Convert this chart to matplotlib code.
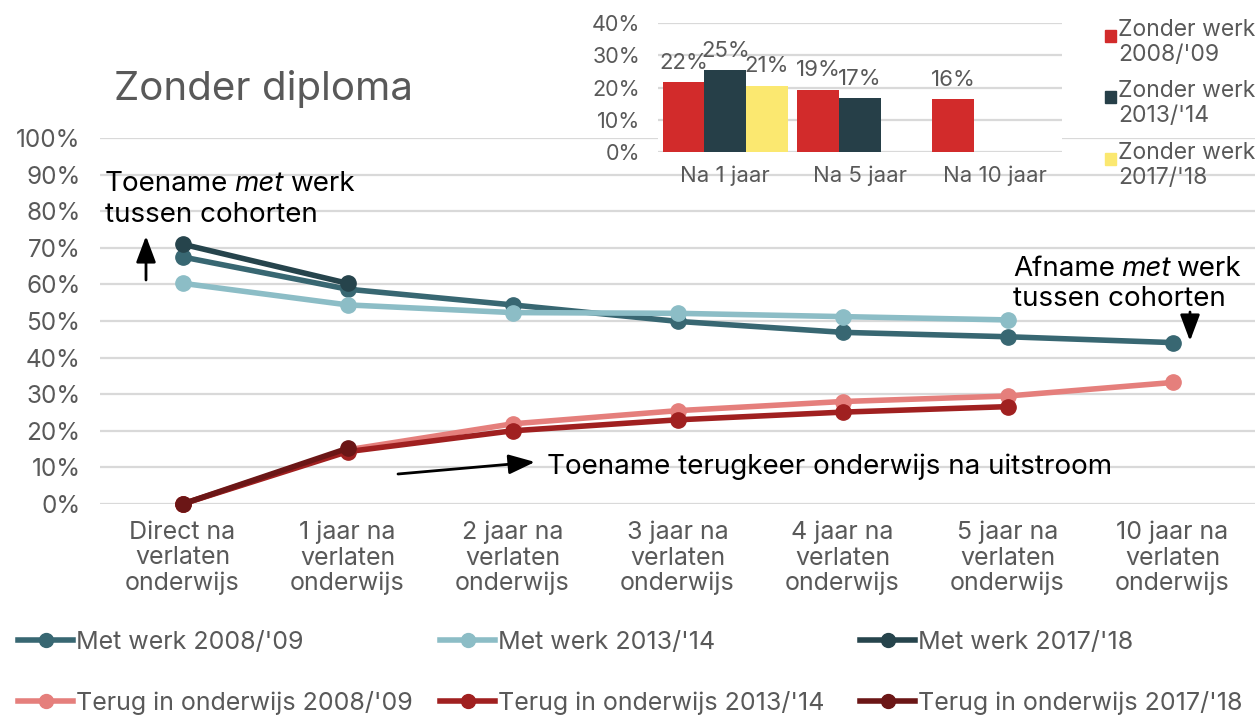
import numpy as np
import matplotlib
matplotlib.use('Agg')
import matplotlib.pyplot as plt
from matplotlib.lines import Line2D
from matplotlib.patches import Rectangle

plt.rcParams['font.family'] = ['Inter', 'DejaVu Sans']

W, H = 1257, 716
GREY = '#595959'

# ---- data, main chart ----
categories = ['Direct na\nverlaten\nonderwijs', '1 jaar na\nverlaten\nonderwijs',
              '2 jaar na\nverlaten\nonderwijs', '3 jaar na\nverlaten\nonderwijs',
              '4 jaar na\nverlaten\nonderwijs', '5 jaar na\nverlaten\nonderwijs',
              '10 jaar na\nverlaten\nonderwijs']
nan = np.nan
met_werk_0809 = [67.5, 58.7, 54.4, 49.9, 46.9, 45.7, 44.1]
met_werk_1314 = [60.3, 54.4, 52.3, 52.1, 51.2, 50.3, nan]
met_werk_1718 = [71.0, 60.3, nan, nan, nan, nan, nan]
terug_0809 = [0.0, 14.8, 21.9, 25.5, 28.0, 29.5, 33.2]
terug_1314 = [0.0, 14.3, 20.0, 23.0, 25.1, 26.6, nan]
terug_1718 = [0.0, 15.2, nan, nan, nan, nan, nan]

series = [
    ("Met werk 2008/'09", met_werk_0809, '#386772'),
    ("Met werk 2013/'14", met_werk_1314, '#8cbdc6'),
    ("Met werk 2017/'18", met_werk_1718, '#26444c'),
    ("Terug in onderwijs 2008/'09", terug_0809, '#e57f7c'),
    ("Terug in onderwijs 2013/'14", terug_1314, '#a02020'),
    ("Terug in onderwijs 2017/'18", terug_1718, '#6b1616'),
]

# ---- data, inset (zonder werk) ----
inset_cats = ['Na 1 jaar', 'Na 5 jaar', 'Na 10 jaar']
zonder_0809 = [21.6, 19.3, 16.3]
zonder_1314 = [25.3, 16.6, nan]
zonder_1718 = [20.6, nan, nan]
inset_series = [
    ("Zonder werk\n2008/'09", zonder_0809, '#d22b2b'),
    ("Zonder werk\n2013/'14", zonder_1314, '#263f48'),
    ("Zonder werk\n2017/'18", zonder_1718, '#fbe870'),
]


def fx(x):
    return x / W


def fy(y):
    return 1 - y / H


fig = plt.figure(figsize=(W / 100, H / 100), dpi=100)

# main axes
ax = fig.add_axes([fx(100), fy(504), 1155 / W, 366 / H])
x = np.arange(len(categories))
for name, vals, col in series:
    ax.plot(x, vals, color=col, lw=4, marker='o', ms=11, clip_on=False,
            solid_capstyle='round')
ax.set_xlim(-0.5, 6.5)
ax.set_ylim(0, 100)
ax.set_yticks(np.arange(0, 101, 10))
ax.set_yticklabels([f'{v}%' for v in range(0, 101, 10)])
ax.set_xticks(x)
ax.set_xticklabels(categories, linespacing=1.13)
ax.tick_params(axis='y', length=0, pad=14, labelsize=17.5, labelcolor=GREY)
ax.tick_params(axis='x', length=0, pad=12, labelsize=18, labelcolor=GREY)
ax.grid(axis='y', color='#d9d9d9', lw=1.6)
ax.set_axisbelow(True)
for s in ax.spines.values():
    s.set_visible(False)

# title
fig.text(fx(114), fy(89), 'Zonder diploma', fontsize=29, color=GREY, va='center')


# annotations with italic "met"
def mixed(x0, y0, parts, size=20):
    prev = None
    for txt, style in parts:
        if prev is None:
            prev = ax.annotate(txt, xy=(x0, H - y0), xycoords='figure pixels',
                               fontsize=size, style=style, va='baseline',
                               annotation_clip=False)
        else:
            prev = ax.annotate(txt, xy=(1, 0), xycoords=prev, xytext=(6, 0),
                               textcoords='offset pixels', fontsize=size,
                               style=style, va='bottom', annotation_clip=False)


mixed(105, 191, [('Toename', 'normal'), ('met', 'italic'), ('werk', 'normal')])
mixed(105, 222, [('tussen cohorten', 'normal')])
mixed(1013, 276, [('Afname', 'normal'), ('met', 'italic'), ('werk', 'normal')])
mixed(1013, 306, [('tussen cohorten', 'normal')])
mixed(547, 474, [('Toename terugkeer onderwijs na uitstroom', 'normal')])

arrow = dict(arrowstyle='-|>,head_length=0.8,head_width=0.3', color='black',
             lw=2, mutation_scale=20, shrinkA=0, shrinkB=0)
for tail, tip in [((146, 280), (146, 236)), ((1190, 312), (1190, 341)),
                  ((398, 474), (535, 462))]:
    ax.annotate('', xy=(tip[0], H - tip[1]), xytext=(tail[0], H - tail[1]),
                xycoords='figure pixels', textcoords='figure pixels',
                arrowprops=arrow, annotation_clip=False)

# bottom legend, one entry per slot
slots = [(18, 642), (18, 703), (440, 642), (440, 703), (860, 642), (860, 703)]
order = [0, 3, 1, 4, 2, 5]
for (lx, ly), i in zip(slots, order):
    name, vals, col = series[i]
    h = Line2D([], [], color=col, lw=4, marker='o', ms=10)
    fig.legend([h], [name], loc='center left', bbox_to_anchor=(fx(lx), fy(ly)),
               frameon=False, borderpad=0, borderaxespad=0, handlelength=2.2,
               handletextpad=0.12, fontsize=18, labelcolor=GREY)

# inset bar chart
axin = fig.add_axes([fx(658), fy(152), 404 / W, 129 / H])
bw = 0.31
xi = np.arange(len(inset_cats))
for k, (name, vals, col) in enumerate(inset_series):
    vals = np.array(vals)
    ok = ~np.isnan(vals)
    bars = axin.bar(xi[ok] + (k - 1) * bw, vals[ok], width=bw, color=col)
    axin.bar_label(bars, labels=[f'{v:.0f}%' for v in vals[ok]], padding=7,
                   fontsize=16, color=GREY)
axin.set_xlim(-0.5, 2.5)
axin.set_ylim(0, 40)
axin.set_yticks(np.arange(0, 41, 10))
axin.set_yticklabels([f'{v}%' for v in range(0, 41, 10)])
axin.set_xticks(xi)
axin.set_xticklabels(inset_cats)
axin.tick_params(axis='y', length=0, pad=13, labelsize=15.5, labelcolor=GREY)
axin.tick_params(axis='x', length=0, pad=10, labelsize=16, labelcolor=GREY)
axin.grid(axis='y', color='#d9d9d9', lw=1.6)
axin.set_axisbelow(True)
for s in axin.spines.values():
    s.set_visible(False)

# inset legend
for (name, vals, col), ty in zip(inset_series, [19, 80, 142]):
    fig.add_artist(Rectangle((fx(1105), fy(ty + 23)), 11 / W, 12 / H,
                             transform=fig.transFigure, color=col))
    fig.text(fx(1118), fy(ty), name, fontsize=16.5, color=GREY, va='top',
             linespacing=1.2)

fig.savefig('out.png', dpi=100)
